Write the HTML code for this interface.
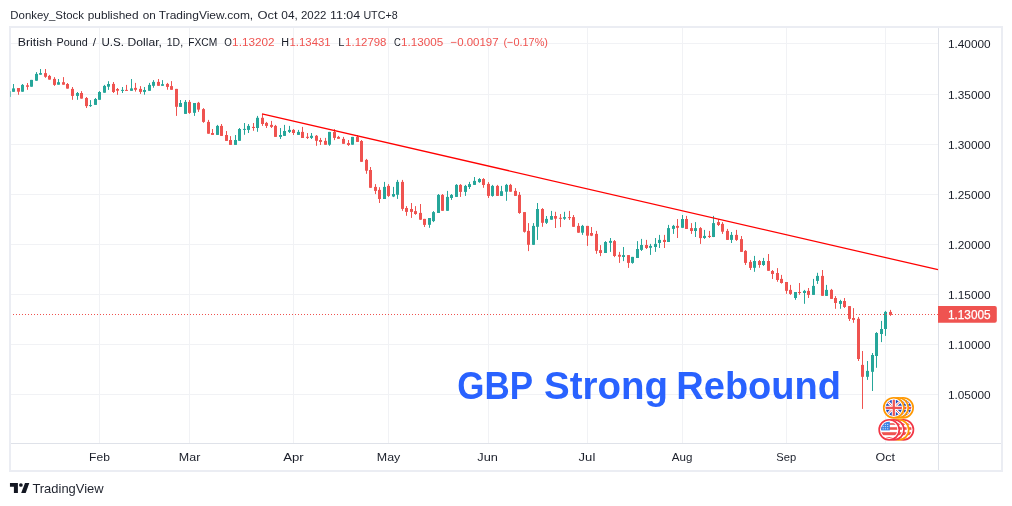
<!DOCTYPE html>
<html lang="en"><head><meta charset="utf-8"><title>GBP Strong Rebound</title>
<style>html,body{margin:0;padding:0;background:#fff;}body{width:1012px;height:506px;overflow:hidden;}svg{display:block;font-family:"Liberation Sans", "DejaVu Sans", sans-serif;}</style></head><body>
<svg width="1012" height="506" viewBox="0 0 1012 506">
<rect x="0" y="0" width="1012" height="506" fill="#ffffff"/>
<rect x="10" y="27" width="992" height="444" fill="#ffffff" stroke="#ebedf3" stroke-width="2"/>
<g fill="#f1f2f5" shape-rendering="crispEdges"><rect x="99" y="28" width="1" height="415"/><rect x="189" y="28" width="1" height="415"/><rect x="293" y="28" width="1" height="415"/><rect x="388" y="28" width="1" height="415"/><rect x="488" y="28" width="1" height="415"/><rect x="587" y="28" width="1" height="415"/><rect x="682" y="28" width="1" height="415"/><rect x="786" y="28" width="1" height="415"/><rect x="885" y="28" width="1" height="415"/><rect x="11" y="43" width="927" height="1"/><rect x="11" y="94" width="927" height="1"/><rect x="11" y="144" width="927" height="1"/><rect x="11" y="194" width="927" height="1"/><rect x="11" y="244" width="927" height="1"/><rect x="11" y="294" width="927" height="1"/><rect x="11" y="344" width="927" height="1"/><rect x="11" y="394" width="927" height="1"/></g>
<g fill="#dfe2e9" shape-rendering="crispEdges"><rect x="938" y="28" width="1" height="442"/><rect x="11" y="443" width="990" height="1"/></g>
<text y="19" font-size="11.7" fill="#1e222d"><tspan x="10.3" textLength="73.6" lengthAdjust="spacingAndGlyphs">Donkey_Stock</tspan><tspan x="87.7" textLength="50.8" lengthAdjust="spacingAndGlyphs">published</tspan><tspan x="142.7" textLength="13.0" lengthAdjust="spacingAndGlyphs">on</tspan><tspan x="158.8" textLength="94.4" lengthAdjust="spacingAndGlyphs">TradingView.com,</tspan><tspan x="257.4" textLength="20.1" lengthAdjust="spacingAndGlyphs">Oct</tspan><tspan x="281.3" textLength="16.5" lengthAdjust="spacingAndGlyphs">04,</tspan><tspan x="301.0" textLength="25.5" lengthAdjust="spacingAndGlyphs">2022</tspan><tspan x="330.0" textLength="30.2" lengthAdjust="spacingAndGlyphs">11:04</tspan><tspan x="363.4" textLength="34.2" lengthAdjust="spacingAndGlyphs">UTC+8</tspan></text>
<text y="45.5" font-size="11.7" fill="#171b26"><tspan x="17.8" textLength="34.2" lengthAdjust="spacingAndGlyphs">British</tspan><tspan x="56.5" textLength="31.2" lengthAdjust="spacingAndGlyphs">Pound</tspan><tspan x="92.7">/</tspan><tspan x="101.5" textLength="22.5" lengthAdjust="spacingAndGlyphs">U.S.</tspan><tspan x="127.5" textLength="34.4" lengthAdjust="spacingAndGlyphs">Dollar,</tspan><tspan x="166.8" textLength="16.3" lengthAdjust="spacingAndGlyphs">1D,</tspan><tspan x="188.3" textLength="29.0" lengthAdjust="spacingAndGlyphs">FXCM</tspan><tspan x="224.2" textLength="7.6" lengthAdjust="spacingAndGlyphs">O</tspan><tspan x="232.1" textLength="42.5" lengthAdjust="spacingAndGlyphs" fill="#ef5350">1.13202</tspan><tspan x="281.3" textLength="7.8" lengthAdjust="spacingAndGlyphs">H</tspan><tspan x="289.5" textLength="41.1" lengthAdjust="spacingAndGlyphs" fill="#ef5350">1.13431</tspan><tspan x="338.3" textLength="6.2" lengthAdjust="spacingAndGlyphs">L</tspan><tspan x="345.1" textLength="41.4" lengthAdjust="spacingAndGlyphs" fill="#ef5350">1.12798</tspan><tspan x="393.9" textLength="6.8" lengthAdjust="spacingAndGlyphs">C</tspan><tspan x="401.1" textLength="42.1" lengthAdjust="spacingAndGlyphs" fill="#ef5350">1.13005</tspan><tspan x="450.5" textLength="48.1" lengthAdjust="spacingAndGlyphs" fill="#ef5350">−0.00197</tspan><tspan x="503.4" textLength="44.6" lengthAdjust="spacingAndGlyphs" fill="#ef5350">(−0.17%)</tspan></text>
<g fill="#26a69a"><rect x="10" y="91.2" width="1" height="5.7" opacity="0.6"/><rect x="13" y="84.0" width="1" height="7.7"/><rect x="12" y="88.4" width="3" height="3.4"/><rect x="22" y="84.0" width="1" height="7.7"/><rect x="21" y="84.9" width="3" height="6.8"/><rect x="31" y="79.9" width="1" height="6.8"/><rect x="30" y="79.9" width="3" height="6.8"/><rect x="36" y="72.1" width="1" height="8.7"/><rect x="35" y="73.9" width="3" height="6.8"/><rect x="40" y="69.0" width="1" height="5.7"/><rect x="39" y="73.1" width="3" height="1.6"/><rect x="58" y="79.0" width="1" height="5.6"/><rect x="57" y="82.2" width="3" height="2.5"/><rect x="77" y="92.0" width="1" height="7.8"/><rect x="76" y="93.0" width="3" height="2.9"/><rect x="90" y="100.1" width="1" height="6.8"/><rect x="89" y="105.1" width="3" height="1.0"/><rect x="95" y="98.0" width="1" height="6.8"/><rect x="94" y="99.0" width="3" height="5.9"/><rect x="99" y="91.1" width="1" height="8.7"/><rect x="98" y="92.0" width="3" height="7.8"/><rect x="104" y="84.9" width="1" height="7.8"/><rect x="103" y="85.9" width="3" height="6.8"/><rect x="108" y="81.2" width="1" height="8.7"/><rect x="107" y="84.0" width="3" height="2.7"/><rect x="122" y="87.0" width="1" height="6.0"/><rect x="121" y="89.9" width="3" height="1.0"/><rect x="131" y="79.0" width="1" height="11.7"/><rect x="130" y="88.4" width="3" height="2.4"/><rect x="144" y="87.0" width="1" height="7.7"/><rect x="143" y="90.0" width="3" height="1.9"/><rect x="149" y="82.9" width="1" height="7.8"/><rect x="148" y="84.9" width="3" height="5.9"/><rect x="153" y="80.1" width="1" height="7.6"/><rect x="152" y="81.9" width="3" height="3.9"/><rect x="162" y="80.1" width="1" height="5.7"/><rect x="161" y="84.2" width="3" height="1.6"/><rect x="180" y="100.0" width="1" height="6.8"/><rect x="179" y="103.0" width="3" height="3.9"/><rect x="185" y="100.0" width="1" height="13.8"/><rect x="184" y="101.9" width="3" height="12.0"/><rect x="194" y="103.0" width="1" height="12.9"/><rect x="193" y="103.0" width="3" height="9.8"/><rect x="217" y="124.9" width="1" height="10.0"/><rect x="216" y="125.9" width="3" height="9.0"/><rect x="235" y="135.0" width="1" height="9.8"/><rect x="234" y="140.0" width="3" height="4.9"/><rect x="239" y="128.0" width="1" height="12.8"/><rect x="238" y="129.0" width="3" height="11.8"/><rect x="244" y="123.0" width="1" height="11.8"/><rect x="243" y="128.9" width="3" height="1.0"/><rect x="248" y="124.0" width="1" height="9.0"/><rect x="247" y="125.9" width="3" height="4.0"/><rect x="257" y="115.9" width="1" height="15.9"/><rect x="256" y="117.8" width="3" height="10.2"/><rect x="280" y="128.0" width="1" height="11.0"/><rect x="279" y="135.0" width="3" height="1.9"/><rect x="284" y="124.9" width="1" height="11.0"/><rect x="283" y="131.0" width="3" height="4.9"/><rect x="289" y="125.9" width="1" height="7.1"/><rect x="288" y="129.9" width="3" height="2.0"/><rect x="298" y="129.9" width="1" height="5.0"/><rect x="297" y="131.9" width="3" height="3.0"/><rect x="311" y="133.0" width="1" height="6.0"/><rect x="310" y="135.8" width="3" height="2.1"/><rect x="329" y="131.9" width="1" height="13.9"/><rect x="328" y="131.9" width="3" height="12.8"/><rect x="352" y="136.9" width="1" height="7.8"/><rect x="351" y="136.9" width="3" height="7.8"/><rect x="384" y="181.9" width="1" height="17.1"/><rect x="383" y="186.9" width="3" height="12.1"/><rect x="393" y="186.9" width="1" height="10.2"/><rect x="392" y="194.0" width="3" height="2.5"/><rect x="397" y="179.9" width="1" height="19.0"/><rect x="396" y="181.9" width="3" height="12.9"/><rect x="429" y="218.0" width="1" height="9.8"/><rect x="428" y="218.0" width="3" height="6.8"/><rect x="433" y="211.1" width="1" height="11.0"/><rect x="432" y="212.1" width="3" height="9.0"/><rect x="438" y="194.0" width="1" height="18.9"/><rect x="437" y="194.9" width="3" height="18.1"/><rect x="447" y="190.9" width="1" height="19.9"/><rect x="446" y="196.9" width="3" height="13.9"/><rect x="451" y="194.0" width="1" height="5.9"/><rect x="450" y="194.9" width="3" height="3.1"/><rect x="456" y="184.1" width="1" height="12.8"/><rect x="455" y="184.9" width="3" height="12.0"/><rect x="465" y="184.9" width="1" height="11.0"/><rect x="464" y="185.9" width="3" height="6.0"/><rect x="469" y="181.9" width="1" height="7.1"/><rect x="468" y="184.1" width="3" height="2.9"/><rect x="474" y="177.0" width="1" height="8.0"/><rect x="473" y="180.9" width="3" height="4.0"/><rect x="479" y="178.1" width="1" height="4.7"/><rect x="478" y="179.0" width="3" height="3.1"/><rect x="492" y="184.9" width="1" height="11.8"/><rect x="491" y="185.9" width="3" height="10.0"/><rect x="501" y="185.9" width="1" height="10.0"/><rect x="500" y="191.2" width="3" height="4.7"/><rect x="506" y="183.9" width="1" height="16.9"/><rect x="505" y="184.9" width="3" height="6.8"/><rect x="533" y="223.1" width="1" height="21.8"/><rect x="532" y="225.9" width="3" height="18.9"/><rect x="537" y="203.0" width="1" height="36.9"/><rect x="536" y="209.0" width="3" height="17.8"/><rect x="546" y="216.0" width="1" height="8.0"/><rect x="545" y="218.9" width="3" height="3.9"/><rect x="551" y="210.9" width="1" height="8.8"/><rect x="550" y="216.0" width="3" height="3.7"/><rect x="564" y="211.8" width="1" height="8.1"/><rect x="563" y="217.1" width="3" height="1.6"/><rect x="582" y="224.9" width="1" height="10.0"/><rect x="581" y="225.9" width="3" height="6.8"/><rect x="605" y="241.1" width="1" height="11.8"/><rect x="604" y="242.0" width="3" height="11.0"/><rect x="610" y="238.0" width="1" height="13.9"/><rect x="609" y="240.9" width="3" height="1.9"/><rect x="623" y="247.0" width="1" height="14.1"/><rect x="622" y="255.1" width="3" height="1.9"/><rect x="632" y="256.9" width="1" height="6.8"/><rect x="631" y="256.9" width="3" height="6.0"/><rect x="637" y="241.1" width="1" height="16.8"/><rect x="636" y="249.0" width="3" height="9.0"/><rect x="641" y="238.9" width="1" height="12.1"/><rect x="640" y="245.0" width="3" height="4.9"/><rect x="650" y="243.9" width="1" height="11.0"/><rect x="649" y="245.9" width="3" height="1.9"/><rect x="655" y="238.0" width="1" height="13.9"/><rect x="654" y="243.9" width="3" height="3.1"/><rect x="659" y="234.9" width="1" height="13.1"/><rect x="658" y="239.9" width="3" height="3.1"/><rect x="668" y="224.9" width="1" height="17.1"/><rect x="667" y="228.1" width="3" height="13.9"/><rect x="673" y="224.9" width="1" height="9.0"/><rect x="672" y="225.9" width="3" height="3.0"/><rect x="682" y="215.0" width="1" height="12.8"/><rect x="681" y="219.0" width="3" height="8.8"/><rect x="695" y="222.1" width="1" height="14.9"/><rect x="694" y="228.1" width="3" height="2.9"/><rect x="704" y="229.9" width="1" height="9.0"/><rect x="703" y="235.9" width="3" height="2.1"/><rect x="713" y="215.9" width="1" height="21.2"/><rect x="712" y="223.1" width="3" height="13.9"/><rect x="731" y="232.0" width="1" height="11.0"/><rect x="730" y="234.9" width="3" height="5.0"/><rect x="754" y="255.9" width="1" height="15.9"/><rect x="753" y="261.0" width="3" height="6.8"/><rect x="763" y="257.9" width="1" height="8.0"/><rect x="762" y="261.0" width="3" height="4.0"/><rect x="795" y="292.0" width="1" height="7.8"/><rect x="794" y="292.0" width="3" height="6.0"/><rect x="804" y="289.9" width="1" height="13.9"/><rect x="803" y="290.9" width="3" height="2.1"/><rect x="813" y="278.9" width="1" height="15.9"/><rect x="812" y="285.9" width="3" height="9.0"/><rect x="817" y="272.8" width="1" height="11.1"/><rect x="816" y="275.9" width="3" height="5.0"/><rect x="826" y="284.9" width="1" height="11.0"/><rect x="825" y="289.9" width="3" height="6.0"/><rect x="840" y="299.8" width="1" height="9.0"/><rect x="839" y="301.0" width="3" height="2.9"/><rect x="867" y="361.0" width="1" height="18.9"/><rect x="866" y="370.9" width="3" height="5.9"/><rect x="872" y="353.0" width="1" height="38.0"/><rect x="871" y="355.0" width="3" height="16.8"/><rect x="876" y="332.1" width="1" height="35.7"/><rect x="875" y="333.0" width="3" height="23.0"/><rect x="881" y="320.9" width="1" height="21.2"/><rect x="880" y="329.0" width="3" height="5.0"/><rect x="885" y="310.9" width="1" height="25.0"/><rect x="884" y="311.9" width="3" height="17.1"/></g>
<g fill="#ef5350"><rect x="18" y="88.0" width="1" height="6.8"/><rect x="17" y="88.0" width="3" height="3.7"/><rect x="27" y="83.0" width="1" height="6.8"/><rect x="26" y="85.3" width="3" height="1.5"/><rect x="45" y="69.0" width="1" height="8.8"/><rect x="44" y="73.1" width="3" height="3.7"/><rect x="49" y="74.9" width="1" height="4.7"/><rect x="48" y="75.9" width="3" height="3.7"/><rect x="54" y="77.1" width="1" height="8.8"/><rect x="53" y="78.9" width="3" height="6.0"/><rect x="63" y="77.1" width="1" height="7.6"/><rect x="62" y="82.2" width="3" height="2.5"/><rect x="67" y="83.0" width="1" height="5.6"/><rect x="66" y="84.0" width="3" height="4.6"/><rect x="72" y="87.0" width="1" height="12.8"/><rect x="71" y="88.9" width="3" height="7.0"/><rect x="81" y="91.1" width="1" height="7.5"/><rect x="80" y="93.0" width="3" height="5.6"/><rect x="86" y="97.0" width="1" height="11.0"/><rect x="85" y="98.0" width="3" height="8.1"/><rect x="113" y="82.0" width="1" height="11.0"/><rect x="112" y="83.9" width="3" height="8.1"/><rect x="117" y="88.0" width="1" height="6.8"/><rect x="116" y="89.0" width="3" height="1.7"/><rect x="126" y="84.9" width="1" height="6.0"/><rect x="125" y="89.9" width="3" height="1.0"/><rect x="135" y="82.9" width="1" height="8.7"/><rect x="134" y="87.9" width="3" height="1.9"/><rect x="140" y="86.1" width="1" height="7.8"/><rect x="139" y="88.9" width="3" height="3.0"/><rect x="158" y="79.0" width="1" height="6.8"/><rect x="157" y="81.9" width="3" height="3.9"/><rect x="167" y="82.9" width="1" height="6.8"/><rect x="166" y="83.9" width="3" height="3.0"/><rect x="171" y="81.1" width="1" height="8.7"/><rect x="170" y="86.1" width="3" height="3.7"/><rect x="176" y="88.9" width="1" height="27.0"/><rect x="175" y="88.9" width="3" height="17.9"/><rect x="189" y="100.0" width="1" height="13.8"/><rect x="188" y="101.9" width="3" height="11.0"/><rect x="198" y="101.9" width="1" height="10.0"/><rect x="197" y="102.8" width="3" height="6.8"/><rect x="203" y="108.1" width="1" height="14.7"/><rect x="202" y="109.1" width="3" height="12.8"/><rect x="208" y="119.9" width="1" height="13.8"/><rect x="207" y="121.9" width="3" height="11.8"/><rect x="212" y="129.0" width="1" height="5.9"/><rect x="211" y="133.0" width="3" height="1.9"/><rect x="221" y="124.0" width="1" height="11.8"/><rect x="220" y="125.9" width="3" height="10.0"/><rect x="226" y="131.0" width="1" height="9.8"/><rect x="225" y="135.0" width="3" height="5.9"/><rect x="230" y="136.1" width="1" height="8.7"/><rect x="229" y="140.0" width="3" height="4.9"/><rect x="253" y="123.0" width="1" height="7.8"/><rect x="252" y="126.9" width="3" height="1.1"/><rect x="262" y="114.1" width="1" height="11.8"/><rect x="261" y="117.8" width="3" height="6.2"/><rect x="266" y="121.9" width="1" height="6.1"/><rect x="265" y="122.9" width="3" height="3.0"/><rect x="271" y="120.9" width="1" height="7.1"/><rect x="270" y="124.9" width="3" height="2.0"/><rect x="275" y="124.9" width="1" height="12.0"/><rect x="274" y="125.9" width="3" height="11.0"/><rect x="293" y="129.0" width="1" height="6.0"/><rect x="292" y="129.9" width="3" height="3.1"/><rect x="302" y="126.9" width="1" height="11.1"/><rect x="301" y="131.9" width="3" height="6.1"/><rect x="307" y="133.0" width="1" height="6.0"/><rect x="306" y="136.8" width="3" height="1.1"/><rect x="316" y="135.0" width="1" height="10.8"/><rect x="315" y="135.8" width="3" height="5.0"/><rect x="320" y="137.9" width="1" height="7.1"/><rect x="319" y="140.0" width="3" height="1.9"/><rect x="325" y="137.9" width="1" height="6.8"/><rect x="324" y="140.9" width="3" height="3.9"/><rect x="334" y="129.1" width="1" height="11.0"/><rect x="333" y="131.9" width="3" height="6.0"/><rect x="338" y="135.9" width="1" height="2.9"/><rect x="337" y="136.9" width="3" height="1.9"/><rect x="343" y="136.9" width="1" height="6.8"/><rect x="342" y="138.9" width="3" height="4.9"/><rect x="348" y="140.0" width="1" height="5.9"/><rect x="347" y="143.1" width="3" height="1.9"/><rect x="357" y="135.0" width="1" height="6.8"/><rect x="356" y="136.9" width="3" height="5.0"/><rect x="361" y="140.0" width="1" height="21.8"/><rect x="360" y="141.0" width="3" height="20.8"/><rect x="366" y="158.9" width="1" height="14.9"/><rect x="365" y="159.9" width="3" height="10.8"/><rect x="370" y="167.0" width="1" height="20.8"/><rect x="369" y="170.0" width="3" height="17.8"/><rect x="375" y="184.1" width="1" height="10.0"/><rect x="374" y="186.9" width="3" height="4.0"/><rect x="379" y="187.2" width="1" height="15.8"/><rect x="378" y="189.9" width="3" height="9.1"/><rect x="388" y="184.1" width="1" height="12.8"/><rect x="387" y="185.9" width="3" height="10.0"/><rect x="402" y="179.9" width="1" height="30.9"/><rect x="401" y="181.9" width="3" height="27.0"/><rect x="406" y="206.1" width="1" height="9.7"/><rect x="405" y="208.0" width="3" height="3.9"/><rect x="411" y="203.0" width="1" height="14.9"/><rect x="410" y="209.0" width="3" height="2.9"/><rect x="415" y="206.1" width="1" height="8.7"/><rect x="414" y="211.1" width="3" height="2.9"/><rect x="420" y="204.0" width="1" height="15.8"/><rect x="419" y="212.9" width="3" height="6.8"/><rect x="424" y="218.9" width="1" height="8.1"/><rect x="423" y="218.9" width="3" height="6.0"/><rect x="442" y="194.0" width="1" height="16.8"/><rect x="441" y="194.9" width="3" height="15.9"/><rect x="460" y="184.1" width="1" height="12.8"/><rect x="459" y="184.9" width="3" height="7.0"/><rect x="483" y="178.1" width="1" height="9.7"/><rect x="482" y="179.0" width="3" height="6.0"/><rect x="488" y="182.1" width="1" height="15.9"/><rect x="487" y="183.9" width="3" height="12.0"/><rect x="497" y="184.9" width="1" height="11.0"/><rect x="496" y="185.9" width="3" height="10.0"/><rect x="510" y="183.9" width="1" height="7.8"/><rect x="509" y="184.9" width="3" height="6.8"/><rect x="515" y="188.1" width="1" height="7.8"/><rect x="514" y="190.9" width="3" height="5.0"/><rect x="519" y="192.0" width="1" height="21.8"/><rect x="518" y="194.9" width="3" height="18.1"/><rect x="524" y="212.1" width="1" height="20.5"/><rect x="523" y="212.1" width="3" height="19.7"/><rect x="528" y="223.1" width="1" height="28.0"/><rect x="527" y="230.9" width="3" height="13.9"/><rect x="542" y="208.1" width="1" height="18.7"/><rect x="541" y="209.0" width="3" height="13.8"/><rect x="555" y="211.8" width="1" height="16.2"/><rect x="554" y="216.0" width="3" height="2.7"/><rect x="560" y="214.0" width="1" height="13.1"/><rect x="559" y="217.8" width="3" height="1.0"/><rect x="569" y="210.9" width="1" height="9.1"/><rect x="568" y="217.1" width="3" height="1.0"/><rect x="573" y="215.0" width="1" height="11.8"/><rect x="572" y="217.1" width="3" height="9.7"/><rect x="578" y="223.1" width="1" height="9.7"/><rect x="577" y="225.9" width="3" height="6.8"/><rect x="587" y="225.9" width="1" height="20.0"/><rect x="586" y="225.9" width="3" height="9.8"/><rect x="591" y="227.0" width="1" height="9.1"/><rect x="590" y="233.0" width="3" height="2.7"/><rect x="596" y="230.9" width="1" height="22.9"/><rect x="595" y="233.9" width="3" height="16.9"/><rect x="600" y="245.1" width="1" height="11.0"/><rect x="599" y="250.1" width="3" height="2.9"/><rect x="614" y="240.0" width="1" height="17.1"/><rect x="613" y="241.1" width="3" height="14.9"/><rect x="619" y="251.9" width="1" height="11.0"/><rect x="618" y="254.8" width="3" height="1.9"/><rect x="628" y="255.1" width="1" height="12.8"/><rect x="627" y="255.1" width="3" height="7.8"/><rect x="646" y="239.9" width="1" height="9.1"/><rect x="645" y="245.0" width="3" height="3.0"/><rect x="664" y="234.9" width="1" height="13.1"/><rect x="663" y="239.9" width="3" height="2.1"/><rect x="677" y="219.0" width="1" height="19.0"/><rect x="676" y="225.9" width="3" height="1.9"/><rect x="686" y="215.9" width="1" height="13.1"/><rect x="685" y="219.0" width="3" height="10.0"/><rect x="691" y="223.1" width="1" height="10.8"/><rect x="690" y="228.1" width="3" height="2.9"/><rect x="700" y="227.1" width="1" height="16.8"/><rect x="699" y="228.1" width="3" height="10.0"/><rect x="709" y="230.9" width="1" height="7.1"/><rect x="708" y="235.9" width="3" height="1.1"/><rect x="718" y="219.0" width="1" height="7.0"/><rect x="717" y="222.1" width="3" height="2.9"/><rect x="722" y="222.1" width="1" height="11.8"/><rect x="721" y="223.9" width="3" height="7.8"/><rect x="727" y="228.9" width="1" height="11.0"/><rect x="726" y="230.9" width="3" height="9.0"/><rect x="736" y="229.9" width="1" height="11.0"/><rect x="735" y="234.9" width="3" height="5.0"/><rect x="741" y="236.0" width="1" height="15.9"/><rect x="740" y="239.1" width="3" height="12.8"/><rect x="745" y="250.1" width="1" height="14.9"/><rect x="744" y="250.9" width="3" height="12.0"/><rect x="750" y="260.0" width="1" height="10.0"/><rect x="749" y="261.9" width="3" height="6.0"/><rect x="759" y="260.0" width="1" height="7.8"/><rect x="758" y="261.0" width="3" height="4.0"/><rect x="768" y="254.0" width="1" height="16.8"/><rect x="767" y="261.0" width="3" height="9.8"/><rect x="772" y="270.0" width="1" height="9.0"/><rect x="771" y="271.0" width="3" height="3.0"/><rect x="777" y="268.1" width="1" height="13.7"/><rect x="776" y="273.0" width="3" height="7.0"/><rect x="781" y="274.9" width="1" height="8.7"/><rect x="780" y="278.9" width="3" height="4.1"/><rect x="786" y="282.0" width="1" height="11.8"/><rect x="785" y="282.0" width="3" height="8.8"/><rect x="790" y="284.9" width="1" height="10.0"/><rect x="789" y="289.9" width="3" height="4.0"/><rect x="799" y="283.0" width="1" height="11.8"/><rect x="798" y="292.0" width="3" height="1.0"/><rect x="808" y="288.0" width="1" height="10.0"/><rect x="807" y="290.9" width="3" height="4.0"/><rect x="822" y="270.0" width="1" height="25.9"/><rect x="821" y="275.9" width="3" height="19.9"/><rect x="831" y="288.9" width="1" height="10.0"/><rect x="830" y="289.9" width="3" height="9.0"/><rect x="835" y="296.1" width="1" height="12.7"/><rect x="834" y="298.0" width="3" height="5.0"/><rect x="844" y="298.0" width="1" height="10.0"/><rect x="843" y="301.0" width="3" height="6.0"/><rect x="849" y="306.1" width="1" height="14.9"/><rect x="848" y="306.1" width="3" height="12.8"/><rect x="853" y="308.1" width="1" height="14.7"/><rect x="852" y="318.0" width="3" height="1.9"/><rect x="858" y="316.9" width="1" height="44.1"/><rect x="857" y="318.8" width="3" height="40.2"/><rect x="862" y="351.0" width="1" height="57.9"/><rect x="861" y="364.9" width="3" height="11.9"/><rect x="890" y="309.9" width="1" height="6.0"/><rect x="889" y="311.9" width="3" height="3.0"/></g>
<line x1="262" y1="113.8" x2="938" y2="269.7" stroke="#ff0000" stroke-width="1.25"/>
<line x1="13" y1="314.5" x2="938" y2="314.5" stroke="#ef5350" stroke-width="1" stroke-dasharray="1 2" shape-rendering="crispEdges"/>
<path d="M938 306h56.8a2 2 0 0 1 2 2v12.8a2 2 0 0 1 -2 2H938z" fill="#ef5350"/>
<g font-size="11.8" fill="#1b1f2a"><text x="947.9" y="47.8" textLength="42.8" lengthAdjust="spacingAndGlyphs">1.40000</text><text x="947.9" y="98.8" textLength="42.8" lengthAdjust="spacingAndGlyphs">1.35000</text><text x="947.9" y="148.8" textLength="42.8" lengthAdjust="spacingAndGlyphs">1.30000</text><text x="947.9" y="198.8" textLength="42.8" lengthAdjust="spacingAndGlyphs">1.25000</text><text x="947.9" y="248.8" textLength="42.8" lengthAdjust="spacingAndGlyphs">1.20000</text><text x="947.9" y="298.8" textLength="42.8" lengthAdjust="spacingAndGlyphs">1.15000</text><text x="947.9" y="348.8" textLength="42.8" lengthAdjust="spacingAndGlyphs">1.10000</text><text x="947.9" y="398.8" textLength="42.8" lengthAdjust="spacingAndGlyphs">1.05000</text></g>
<text x="947.9" y="318.7" font-size="12" fill="#ffffff" stroke="#ffffff" stroke-width="0.25" textLength="42.8" lengthAdjust="spacingAndGlyphs">1.13005</text>
<g font-size="11.8" fill="#1b1f2a"><text x="89.1" y="461" textLength="20.8" lengthAdjust="spacingAndGlyphs">Feb</text><text x="178.8" y="461" textLength="21.5" lengthAdjust="spacingAndGlyphs">Mar</text><text x="283.2" y="461" textLength="20.5" lengthAdjust="spacingAndGlyphs">Apr</text><text x="376.8" y="461" textLength="23.5" lengthAdjust="spacingAndGlyphs">May</text><text x="477.3" y="461" textLength="20.6" lengthAdjust="spacingAndGlyphs">Jun</text><text x="578.6" y="461" textLength="16.7" lengthAdjust="spacingAndGlyphs">Jul</text><text x="671.8" y="461" textLength="20.6" lengthAdjust="spacingAndGlyphs">Aug</text><text x="776.3" y="461" textLength="19.9" lengthAdjust="spacingAndGlyphs">Sep</text><text x="875.5" y="461" textLength="19.4" lengthAdjust="spacingAndGlyphs">Oct</text></g>
<text y="399.3" font-size="38" font-weight="bold" fill="#2962ff"><tspan x="457.3" textLength="75.7" lengthAdjust="spacingAndGlyphs">GBP</tspan><tspan x="544.0" textLength="124.0" lengthAdjust="spacingAndGlyphs">Strong</tspan><tspan x="676.3" textLength="164.7" lengthAdjust="spacingAndGlyphs">Rebound</tspan></text>
<defs><clipPath id="fc"><circle cx="0" cy="0" r="8.1"/></clipPath><g id="uk"><g clip-path="url(#fc)"><rect x="-9" y="-9" width="18" height="18" fill="#1c49bd"/><path d="M-9 -9L9 9M9 -9L-9 9" stroke="#ffffff" stroke-width="2.7"/><path d="M-9 -9L9 9M9 -9L-9 9" stroke="#ef5350" stroke-width="0.9"/><path d="M0 -9V9M-9 0H9" stroke="#ffffff" stroke-width="4.1"/><path d="M0 -9V9M-9 0H9" stroke="#ef5350" stroke-width="2.2"/></g></g><g id="us"><g clip-path="url(#fc)"><rect x="-9" y="-9" width="18" height="18" fill="#ffffff"/><rect x="-9" y="-6.6" width="18" height="1.6" fill="#ef5350"/><rect x="-9" y="-2.6" width="18" height="2.6" fill="#ef5350"/><rect x="-9" y="2.4" width="18" height="3.0" fill="#ef5350"/><rect x="-9" y="7.2" width="18" height="2.0" fill="#ef5350"/><rect x="-9" y="-9" width="9.6" height="9.6" fill="#3b82e6"/><path d="M-6.6 -5.4H0" stroke="#d6e4fb" stroke-width="0.9" stroke-dasharray="1.3 0.9"/><path d="M-6.6 -3.2H0" stroke="#d6e4fb" stroke-width="0.9" stroke-dasharray="1.3 0.9"/><path d="M-6.6 -1.0H0" stroke="#d6e4fb" stroke-width="0.9" stroke-dasharray="1.3 0.9"/></g></g></defs>
<g transform="translate(903.1 407.8)"><circle r="10.05" fill="#ffffff" stroke="#ff9800" stroke-width="1.65"/><use href="#uk"/></g><g transform="translate(898.2 407.8)"><circle r="10.05" fill="#ffffff" stroke="#ff9800" stroke-width="1.65"/><use href="#uk"/></g><g transform="translate(893.8 407.8)"><circle r="10.05" fill="#ffffff" stroke="#ff9800" stroke-width="1.65"/><use href="#uk"/></g><g transform="translate(903.4 429.8)"><circle r="10.05" fill="#ffffff" stroke="#f23645" stroke-width="1.65"/><use href="#us"/></g><g transform="translate(898.7 429.8)"><circle r="10.05" fill="#ffffff" stroke="#ff9800" stroke-width="1.65"/><use href="#us"/></g><g transform="translate(893.9 429.8)"><circle r="10.05" fill="#ffffff" stroke="#f23645" stroke-width="1.65"/><use href="#us"/></g><g transform="translate(889.2 429.8)"><circle r="10.05" fill="#ffffff" stroke="#f23645" stroke-width="1.65"/><use href="#us"/></g>
<g fill="#131722"><path d="M9.95 483.1H17.9V492.9H13.9V486.8H9.95z"/><circle cx="20.9" cy="485" r="1.85"/><path d="M25 483.1H29.3L25.7 492.9H21.2z"/></g>
<text x="32.4" y="492.9" font-size="12.6" fill="#1e222d" textLength="71.2" lengthAdjust="spacingAndGlyphs">TradingView</text>
</svg></body></html>
